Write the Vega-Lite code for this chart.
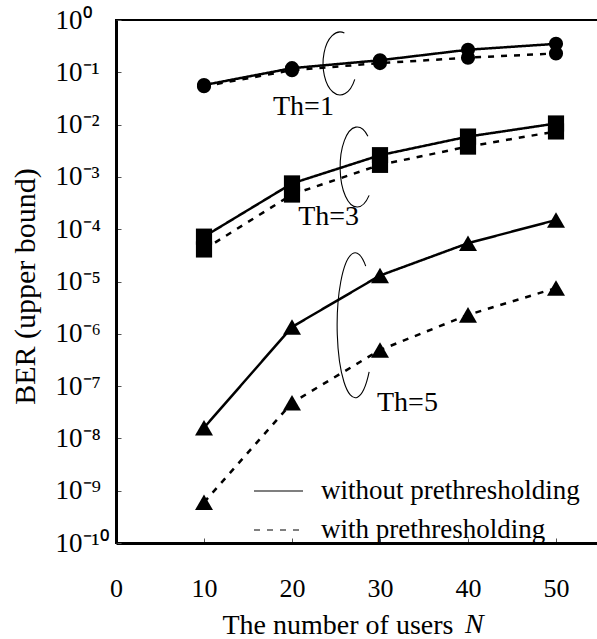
{
  "$schema": "https://vega.github.io/schema/vega-lite/v6.json",
  "width": 484,
  "height": 523,
  "autosize": {"type": "none"},
  "padding": {"left": 116, "top": 20, "right": 0, "bottom": 96},
  "background": "white",
  "config": {
    "font": "Liberation Serif",
    "view": {"stroke": "black", "strokeWidth": 2}
  },
  "datasets": {
    "ber": [
      {"N": 10, "Th": 1, "pre": "without prethresholding", "ber": 0.057},
      {"N": 20, "Th": 1, "pre": "without prethresholding", "ber": 0.12},
      {"N": 30, "Th": 1, "pre": "without prethresholding", "ber": 0.17},
      {"N": 40, "Th": 1, "pre": "without prethresholding", "ber": 0.27},
      {"N": 50, "Th": 1, "pre": "without prethresholding", "ber": 0.35},
      {"N": 10, "Th": 1, "pre": "with prethresholding", "ber": 0.054},
      {"N": 20, "Th": 1, "pre": "with prethresholding", "ber": 0.11},
      {"N": 30, "Th": 1, "pre": "with prethresholding", "ber": 0.15},
      {"N": 40, "Th": 1, "pre": "with prethresholding", "ber": 0.19},
      {"N": 50, "Th": 1, "pre": "with prethresholding", "ber": 0.23},
      {"N": 10, "Th": 3, "pre": "without prethresholding", "ber": 7.2e-5},
      {"N": 20, "Th": 3, "pre": "without prethresholding", "ber": 7.5e-4},
      {"N": 30, "Th": 3, "pre": "without prethresholding", "ber": 2.6e-3},
      {"N": 40, "Th": 3, "pre": "without prethresholding", "ber": 5.9e-3},
      {"N": 50, "Th": 3, "pre": "without prethresholding", "ber": 1.05e-2},
      {"N": 10, "Th": 3, "pre": "with prethresholding", "ber": 4.1e-5},
      {"N": 20, "Th": 3, "pre": "with prethresholding", "ber": 4.6e-4},
      {"N": 30, "Th": 3, "pre": "with prethresholding", "ber": 1.7e-3},
      {"N": 40, "Th": 3, "pre": "with prethresholding", "ber": 3.8e-3},
      {"N": 50, "Th": 3, "pre": "with prethresholding", "ber": 7.4e-3},
      {"N": 10, "Th": 5, "pre": "without prethresholding", "ber": 1.6e-8},
      {"N": 20, "Th": 5, "pre": "without prethresholding", "ber": 1.35e-6},
      {"N": 30, "Th": 5, "pre": "without prethresholding", "ber": 1.3e-5},
      {"N": 40, "Th": 5, "pre": "without prethresholding", "ber": 5.4e-5},
      {"N": 50, "Th": 5, "pre": "without prethresholding", "ber": 1.5e-4},
      {"N": 10, "Th": 5, "pre": "with prethresholding", "ber": 6e-10},
      {"N": 20, "Th": 5, "pre": "with prethresholding", "ber": 4.8e-8},
      {"N": 30, "Th": 5, "pre": "with prethresholding", "ber": 4.9e-7},
      {"N": 40, "Th": 5, "pre": "with prethresholding", "ber": 2.3e-6},
      {"N": 50, "Th": 5, "pre": "with prethresholding", "ber": 7.5e-6}
    ],
    "labels": [
      {"label": "Th=1", "N": 17.84, "ber": 0.0218},
      {"label": "Th=3", "N": 20.7, "ber": 1.7e-4},
      {"label": "Th=5", "N": 29.66, "ber": 4.7e-8}
    ]
  },
  "layer": [
    {
      "data": {"name": "ber"},
      "mark": {"type": "line", "color": "black", "strokeWidth": 2.5},
      "encoding": {
        "x": {
          "field": "N",
          "type": "quantitative",
          "scale": {"domain": [0, 55], "nice": false, "zero": false},
          "axis": {
            "values": [0, 10, 20, 30, 40, 50],
            "grid": false,
            "domainColor": "black",
            "domainWidth": 3,
            "tickSize": -5,
            "tickColor": "#555",
            "tickWidth": 1,
            "labelPadding": 37,
            "labelFontSize": 26,
            "labelColor": "black",
            "labelFlush": false,
            "title": "The number of users",
            "titleFontSize": 28,
            "titleFontWeight": "normal",
            "titleColor": "black",
            "titleAlign": "left",
            "titleAnchor": "start",
            "titleBaseline": "alphabetic",
            "titleX": 106,
            "titleY": 90
          }
        },
        "y": {
          "field": "ber",
          "type": "quantitative",
          "scale": {"type": "log", "domain": [1e-10, 1], "nice": false},
          "axis": {
            "values": [1, 0.1, 0.01, 0.001, 0.0001, 1e-5, 1e-6, 1e-7, 1e-8, 1e-9, 1e-10],
            "labelExpr": "'10' + ['⁰','⁻¹','⁻²','⁻³','⁻⁴','⁻⁵','⁻⁶','⁻⁷','⁻⁸','⁻⁹','⁻¹⁰'][round(-log(datum.value)/LN10)]",
            "grid": false,
            "domainColor": "black",
            "domainWidth": 3,
            "tickSize": -5,
            "tickColor": "#555",
            "tickWidth": 1,
            "labelAlign": "left",
            "labelBaseline": "middle",
            "labelPadding": 66,
            "labelFontSize": 27,
            "labelColor": "black",
            "labelFlush": false,
            "labelOverlap": false,
            "title": "BER (upper bound)",
            "titleFontSize": 30,
            "titleFontWeight": "normal",
            "titleColor": "black",
            "titleAngle": -90,
            "titleAlign": "center",
            "titleBaseline": "middle",
            "titleX": -91,
            "titleY": 266
          }
        },
        "strokeDash": {
          "field": "pre",
          "type": "nominal",
          "scale": {
            "domain": ["without prethresholding", "with prethresholding"],
            "range": [[1, 0], [6, 7]]
          },
          "legend": {
            "title": null,
            "orient": "none",
            "legendX": 137,
            "legendY": 445.5,
            "padding": 0,
            "symbolType": "stroke",
            "symbolSize": 2401,
            "symbolStrokeWidth": 1.2,
            "symbolStrokeColor": "black",
            "labelFont": "Liberation Serif",
            "labelFontSize": 27,
            "labelColor": "black",
            "labelOffset": 17,
            "labelLimit": 400,
            "rowPadding": -17
          }
        },
        "detail": {"field": "Th", "type": "nominal"}
      }
    },
    {
      "data": {"name": "ber"},
      "mark": {"type": "point", "filled": true, "color": "black", "opacity": 1},
      "encoding": {
        "x": {"field": "N", "type": "quantitative"},
        "y": {"field": "ber", "type": "quantitative"},
        "shape": {
          "field": "Th",
          "type": "nominal",
          "scale": {"domain": [1, 3, 5], "range": ["circle", "square", "triangle-up"]},
          "legend": null
        },
        "size": {
          "field": "Th",
          "type": "nominal",
          "scale": {"domain": [1, 3, 5], "range": [200, 324, 260]},
          "legend": null
        }
      }
    },
    {
      "data": {"values": [{"N": 25.45, "ber": 0.147}]},
      "mark": {
        "type": "point",
        "shape": "M 0.14 -0.97 A 0.54 1 0 1 0 0.47 0.5",
        "size": 3969,
        "filled": false,
        "color": "black",
        "strokeWidth": 1.1,
        "opacity": 1
      },
      "encoding": {
        "x": {"field": "N", "type": "quantitative"},
        "y": {"field": "ber", "type": "quantitative"}
      }
    },
    {
      "data": {"values": [{"N": 27.4, "ber": 0.00155}]},
      "mark": {
        "type": "point",
        "shape": "M 0.27 -0.77 A 0.425 1 0 1 0 0.30 0.71",
        "size": 6400,
        "filled": false,
        "color": "black",
        "strokeWidth": 1.1,
        "opacity": 1
      },
      "encoding": {
        "x": {"field": "N", "type": "quantitative"},
        "y": {"field": "ber", "type": "quantitative"}
      }
    },
    {
      "data": {"values": [{"N": 27.2, "ber": 1.44e-6}]},
      "mark": {
        "type": "point",
        "shape": "M 0.143 -0.82 A 0.25 1 0 1 0 0.19 0.64",
        "size": 21025,
        "filled": false,
        "color": "black",
        "strokeWidth": 1.1,
        "opacity": 1
      },
      "encoding": {
        "x": {"field": "N", "type": "quantitative"},
        "y": {"field": "ber", "type": "quantitative"}
      }
    },
    {
      "data": {"name": "labels"},
      "mark": {"type": "text", "align": "left", "baseline": "middle", "fontSize": 28, "color": "black"},
      "encoding": {
        "x": {"field": "N", "type": "quantitative"},
        "y": {"field": "ber", "type": "quantitative"},
        "text": {"field": "label"}
      }
    },
    {
      "data": {"values": [{"label": "N", "N": 39.66, "ber": 1.9e-12}]},
      "mark": {"type": "text", "align": "left", "baseline": "alphabetic", "fontSize": 28, "fontStyle": "italic", "color": "black"},
      "encoding": {
        "x": {"field": "N", "type": "quantitative"},
        "y": {"field": "ber", "type": "quantitative"},
        "text": {"field": "label"}
      }
    }
  ]
}
